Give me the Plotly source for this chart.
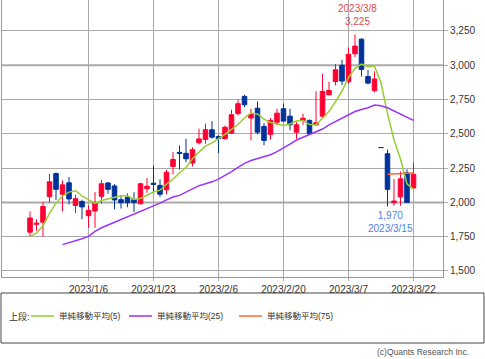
import plotly.graph_objects as go

dates = ["2022/12/22","2022/12/23","2022/12/26","2022/12/27","2022/12/28","2022/12/29","2022/12/30",
         "2023/1/4","2023/1/5","2023/1/6","2023/1/10","2023/1/11","2023/1/12","2023/1/13",
         "2023/1/16","2023/1/17","2023/1/18","2023/1/19","2023/1/20","2023/1/23","2023/1/24",
         "2023/1/25","2023/1/26","2023/1/27","2023/1/30","2023/1/31","2023/2/1","2023/2/2",
         "2023/2/3","2023/2/6","2023/2/7","2023/2/8","2023/2/9","2023/2/10","2023/2/13",
         "2023/2/14","2023/2/15","2023/2/16","2023/2/17","2023/2/20","2023/2/21","2023/2/22",
         "2023/2/24","2023/2/27","2023/2/28","2023/3/1","2023/3/2","2023/3/3","2023/3/6",
         "2023/3/7","2023/3/8","2023/3/9","2023/3/10","2023/3/13","2023/3/14","2023/3/15",
         "2023/3/16","2023/3/17","2023/3/20","2023/3/22"]

open_ = [1783,1840,1855,2042,2210,2060,2143,1978,2007,1903,
         1937,2044,2142,2120,2020,2038,2020,1990,2100,2140,
         2124,2092,2262,2365,2358,2287,2435,2459,2530,2480,
         2465,2505,2647,2773,2615,2687,2554,2496,2585,2683,
         2629,2512,2598,2598,2566,2629,2785,2882,3000,2880,
         3084,3190,2918,2816,2400,2355,1998,2040,2215,2105]
high = [1934,1878,2002,2207,2218,2160,2185,2055,2020,1978,
        2075,2163,2148,2133,2050,2065,2073,2143,2177,2268,
        2168,2238,2367,2415,2464,2403,2537,2574,2593,2490,
        2561,2676,2751,2785,2683,2736,2578,2615,2683,2720,
        2683,2585,2647,2605,2809,2938,2880,3010,3040,3130,
        3225,3198,2967,2955,2400,2385,2170,2225,2240,2290]
low = [1752,1792,1750,2000,2018,1935,1985,1922,1878,1815,
       1815,1990,2063,1950,1955,1965,1930,1985,2070,2070,
       2040,2060,2204,2240,2294,2262,2423,2428,2465,2360,
       2457,2500,2634,2695,2452,2496,2416,2457,2561,2585,
       2525,2464,2566,2493,2562,2615,2780,2853,2855,2865,
       3060,2918,2860,2802,2400,1970,1975,1975,1995,2100]
close = [1886,1848,1970,2150,2095,2128,2025,2027,1967,1942,
         1997,2136,2095,2018,1997,1997,1998,2136,2118,2132,
         2060,2220,2313,2357,2318,2384,2463,2530,2476,2465,
         2548,2639,2720,2712,2641,2512,2452,2598,2651,2593,
         2566,2566,2614,2500,2580,2809,2816,2967,2885,3080,
         3140,2970,2870,2900,2400,2095,2010,2172,2000,2205]

ma5 = [1752,1775,1830,1920,1995,2045,2075,2085,2048,2018,
       1992,2014,2027,2038,2049,2049,2021,2029,2053,2076,
       2089,2133,2169,2216,2254,2318,2367,2410,2434,2464,
       2496,2532,2570,2617,2652,2645,2607,2583,2571,2561,
       2572,2595,2598,2568,2565,2614,2664,2734,2811,2911,
       2978,3008,2989,2992,2872,2648,2456,2316,2136,2097]
ma25 = [None,None,None,None,None,1692,1705,1720,1735,1752,
        1788,1815,1835,1852,1870,1890,1910,1930,1950,1971,
        1995,2018,2039,2051,2075,2100,2122,2136,2150,2170,
        2195,2225,2255,2285,2305,2320,2335,2348,2370,2395,
        2425,2455,2475,2492,2510,2535,2565,2590,2615,2640,
        2663,2678,2690,2710,2705,2690,2668,2645,2620,2598]
ma75 = [None]*55 + [2205,2207,2210,2212,2215]

x_ticks = ["2023/1/6","2023/1/23","2023/2/6","2023/2/20","2023/3/7","2023/3/22"]
y_ticks = [1500,1750,2000,2250,2500,2750,3000,3250]
legend_names = ["単純移動平均(5)","単純移動平均(25)","単純移動平均(75)"]
colors = ["#9acd32","#9933ff","#ff6633"]
hi_date = "2023/3/8"
lo_date = "2023/3/15"

UP = "#ff0033"
DOWN = "#003399"
GRID = "#aaaaaa"
FONT = "Liberation Sans, Noto Sans CJK JP, sans-serif"

fig = go.Figure()
fig.add_trace(go.Candlestick(
    x=dates, open=open_, high=high, low=low, close=close,
    increasing=dict(line=dict(color=UP, width=1), fillcolor=UP),
    decreasing=dict(line=dict(color=DOWN, width=1), fillcolor=DOWN),
    whiskerwidth=0, showlegend=False, hoverinfo="skip"))
for vals, c in zip([ma5, ma25, ma75], colors):
    fig.add_trace(go.Scatter(x=dates, y=vals, mode="lines",
                             line=dict(color=c, width=1.5), showlegend=False,
                             hoverinfo="skip", connectgaps=False))

# thicker lines at round thousands
for v in [2000, 3000]:
    fig.add_shape(type="line", xref="paper", x0=0, x1=1, yref="y", y0=v, y1=v,
                  line=dict(color=GRID, width=2), layer="below")

# annotations for max / min
ih = dates.index(hi_date)
il = dates.index(lo_date)
fig.add_annotation(x=dates[ih], y=high[ih], yanchor="bottom", yshift=5, xshift=3,
                   text=f"{dates[ih]}<br>{high[ih]:,}", showarrow=False,
                   font=dict(family=FONT, size=10, color="#e04850"))
fig.add_annotation(x=dates[il], y=low[il], yanchor="top", yshift=-1, xshift=3,
                   text=f"{low[il]:,}<br>{dates[il]}", showarrow=False,
                   font=dict(family=FONT, size=10, color="#4a7fe8"))

# legend box (paper coords: plot area x 2..443 px, y 0..277 px)
def px(xp):
    return (xp - 2) / 441.0
def py(yp):
    return (277 - yp) / 277.0

fig.add_shape(type="rect", xref="paper", yref="paper", x0=px(1), x1=px(484), y0=py(293), y1=py(343),
              line=dict(color="#444444", width=1), fillcolor="white", layer="above")
fig.add_annotation(xref="paper", yref="paper", x=px(7), y=py(316), xanchor="left", yanchor="middle",
                   text="上段:", showarrow=False, font=dict(family=FONT, size=9, color="#333333"))
line_x = [31, 129, 239]
for name, c, lx in zip(legend_names, colors, line_x):
    fig.add_shape(type="line", xref="paper", yref="paper", x0=px(lx), x1=px(lx + 23), y0=py(316), y1=py(316),
                  line=dict(color=c, width=1.5))
    fig.add_annotation(xref="paper", yref="paper", x=px(lx + 26), y=py(316), xanchor="left", yanchor="middle",
                       text=name, showarrow=False, font=dict(family=FONT, size=8.5, color="#333333"))
fig.add_annotation(xref="paper", yref="paper", x=px(471), y=py(352), xanchor="right", yanchor="middle",
                   text="(c)Quants Research Inc.", showarrow=False,
                   font=dict(family=FONT, size=8.5, color="#555555"))

fig.update_layout(
    width=485, height=359,
    margin=dict(l=2, r=42, t=0, b=82),
    paper_bgcolor="white", plot_bgcolor="white",
    font=dict(family=FONT, size=10, color="#333333"),
    showlegend=False,
    boxgap=0.3, boxgroupgap=0,
    xaxis=dict(type="category", range=[-4.31, 63.54], tickmode="array",
               tickvals=x_ticks, ticktext=x_ticks, showgrid=True, gridcolor=GRID, gridwidth=1,
               showline=True, linecolor="#999999", linewidth=1, mirror=False,
               ticks="outside", ticklen=3, tickcolor=GRID, rangeslider=dict(visible=False),
               tickfont=dict(size=10, color="#333333"), fixedrange=True),
    yaxis=dict(side="right", range=[1456, 3476], tickmode="array", tickvals=y_ticks,
               tickformat=",", showgrid=True, gridcolor=GRID, gridwidth=1,
               showline=True, linecolor="#999999", linewidth=1, mirror=True,
               ticks="outside", ticklen=4, tickcolor=GRID, zeroline=False,
               tickfont=dict(size=10, color="#333333"), fixedrange=True),
)

fig.write_html("out.html", config={"displayModeBar": False},
               post_script="document.body.style.margin='0';document.body.style.padding='0';")
